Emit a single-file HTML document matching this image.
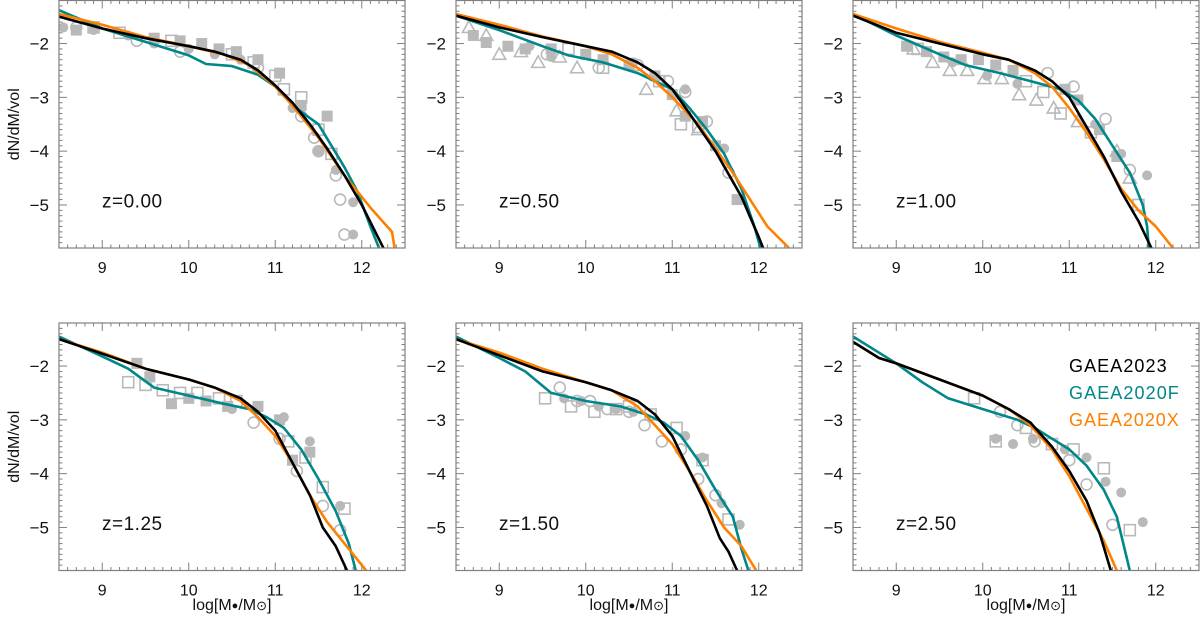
<!DOCTYPE html>
<html><head><meta charset="utf-8"><style>
html,body{margin:0;padding:0;background:#fff;}
svg{display:block;font-family:"Liberation Sans",sans-serif;}
</style></head><body>
<svg id="chart" width="1200" height="621" viewBox="0 0 1200 621" xmlns="http://www.w3.org/2000/svg"></svg>
<script>
const panelLabels=["z=0.00","z=0.50","z=1.00","z=1.25","z=1.50","z=2.50"];
const xTicks=[9,10,11,12];
const yTicks=[-2,-3,-4,-5];
const legendNames=["GAEA2023","GAEA2020F","GAEA2020X"];
const seriesColors=["#000000","#00878a","#ff8000"];
// model lines per panel: [x array, y array]
const blackX=[[8.5,9,9.5,10,10.3,10.6,10.8,11,11.2,11.4,11.6,11.8,12,12.25],[8.5,9,9.5,10,10.3,10.6,10.8,11,11.2,11.5,11.8,12,12.05],[8.5,9,9.5,10,10.3,10.6,10.8,11,11.2,11.4,11.6,11.8,11.95],[8.5,9,9.5,10,10.3,10.6,10.8,11,11.2,11.4,11.55,11.7,11.83],[8.5,9,9.5,10,10.3,10.6,10.8,11,11.2,11.4,11.55,11.65,11.75],[8.5,8.8,9,9.5,10,10.3,10.55,10.8,11,11.2,11.35,11.48]];
const blackY=[[-1.5,-1.72,-1.9,-2.05,-2.15,-2.3,-2.5,-2.78,-3.1,-3.5,-3.95,-4.45,-5.0,-5.8],[-1.48,-1.7,-1.88,-2.05,-2.15,-2.35,-2.55,-2.85,-3.3,-4.0,-4.85,-5.6,-5.8],[-1.48,-1.8,-2.0,-2.2,-2.3,-2.5,-2.7,-3.0,-3.55,-4.1,-4.75,-5.3,-5.8],[-1.5,-1.77,-2.05,-2.25,-2.4,-2.6,-2.85,-3.2,-3.8,-4.4,-5.0,-5.35,-5.8],[-1.5,-1.8,-2.1,-2.3,-2.45,-2.65,-2.9,-3.3,-3.95,-4.6,-5.2,-5.45,-5.8],[-1.55,-1.85,-1.95,-2.25,-2.55,-2.8,-3.05,-3.5,-3.95,-4.5,-5.1,-5.8]];
const tealX=[[8.5,9,9.5,10,10.2,10.5,10.8,11,11.2,11.5,11.8,11.95,12.1,12.2],[8.5,9,9.5,9.8,10.2,10.6,10.8,11,11.2,11.4,11.6,11.8,11.95,12.02],[8.5,9,9.5,9.8,10.2,10.6,10.9,11.1,11.3,11.5,11.7,11.85,11.9,11.92],[8.5,9,9.3,9.6,10,10.4,10.7,10.9,11.1,11.3,11.5,11.7,11.85,11.93],[8.5,9,9.3,9.6,10,10.4,10.7,10.9,11.1,11.3,11.5,11.7,11.8,11.88],[8.5,9,9.3,9.6,10,10.4,10.6,10.8,11,11.2,11.4,11.55,11.7]];
const tealY=[[-1.38,-1.72,-1.97,-2.22,-2.38,-2.42,-2.58,-2.8,-3.15,-3.5,-4.3,-4.75,-5.4,-5.8],[-1.48,-1.75,-2.05,-2.22,-2.35,-2.55,-2.7,-2.85,-3.2,-3.6,-4.05,-4.7,-5.4,-5.8],[-1.45,-1.85,-2.2,-2.4,-2.55,-2.72,-2.85,-3.05,-3.4,-3.9,-4.4,-5.0,-5.4,-5.8],[-1.45,-1.82,-2.05,-2.4,-2.55,-2.7,-2.8,-2.95,-3.15,-3.55,-4.1,-4.7,-5.3,-5.8],[-1.45,-1.85,-2.1,-2.5,-2.65,-2.75,-2.9,-3.05,-3.3,-3.75,-4.3,-4.8,-5.4,-5.8],[-1.45,-1.95,-2.3,-2.6,-2.8,-3.0,-3.15,-3.35,-3.55,-3.85,-4.3,-4.8,-5.8]];
const orangeX=[[8.5,9,9.5,10,10.4,10.7,11,11.2,11.5,11.8,12.1,12.35,12.38],[8.5,9,9.5,10,10.3,10.6,10.8,11,11.3,11.5,11.7,11.9,12.1,12.35],[8.5,9,9.5,10,10.3,10.6,10.8,11,11.2,11.4,11.6,11.8,12,12.2],[8.5,9,9.5,10,10.3,10.6,10.8,11,11.2,11.4,11.6,11.8,12.05],[8.5,9,9.5,10,10.3,10.6,10.8,11,11.2,11.4,11.6,11.8,11.97],[8.5,8.8,9,9.5,10,10.3,10.55,10.8,11,11.2,11.4,11.55]];
const orangeY=[[-1.45,-1.65,-1.88,-2.05,-2.2,-2.4,-2.8,-3.15,-3.75,-4.45,-5.05,-5.5,-5.8],[-1.45,-1.65,-1.87,-2.05,-2.2,-2.45,-2.7,-3.0,-3.5,-3.95,-4.4,-4.9,-5.4,-5.8],[-1.45,-1.72,-1.97,-2.17,-2.3,-2.55,-2.8,-3.2,-3.65,-4.15,-4.7,-5.1,-5.4,-5.8],[-1.5,-1.75,-2.05,-2.25,-2.4,-2.65,-2.95,-3.3,-3.8,-4.4,-4.9,-5.3,-5.8],[-1.5,-1.75,-2.05,-2.3,-2.45,-2.75,-3.1,-3.45,-3.95,-4.5,-5.0,-5.35,-5.8],[-1.55,-1.85,-1.95,-2.25,-2.55,-2.8,-3.1,-3.55,-4.05,-4.65,-5.25,-5.8]];
// observational points per panel
const fcX=[[8.55,8.9,9.3,9.6,10,10.3,10.6,11.2,11.5,11.7,11.9,11.9],[9.35,9.6,10.55,11.15,11.6],[9.65,10.05,10.4,11.3,11.6,11.9],[10.2,10.5,11.1,11.4,11.75],[9.75,9.95,10.15,10.35,10.55,11.15,11.35,11.57,11.78],[10.15,10.35,10.58,10.95,11.2,11.42,11.6,11.85]];
const fcY=[[-1.7,-1.75,-1.85,-2.0,-2.1,-2.2,-2.3,-3.2,-4.0,-4.35,-4.95,-5.55],[-2.05,-2.25,-2.35,-2.85,-3.95],[-2.35,-2.6,-2.75,-3.5,-4.05,-4.45],[-2.65,-2.8,-2.95,-3.4,-4.6],[-2.6,-2.65,-2.75,-2.8,-2.85,-3.3,-3.7,-4.55,-4.95],[-3.35,-3.45,-3.35,-3.55,-3.7,-4.15,-4.35,-4.9]];
const ocX=[[8.7,9.4,9.9,10.8,11.3,11.45,11.5,11.7,11.75,11.8],[9.55,10.15,10.6,10.95,11.15,11.4,11.65],[10.75,11.05,11.42,11.7],[10.75,11.05,11.25,11.55,11.75],[9.7,9.9,10.05,10.25,10.5,10.68,10.88,11.1,11.3,11.5],[10.2,10.4,10.6,11.0,11.2,11.5]];
const ocY=[[-1.7,-1.95,-2.15,-2.45,-3.35,-3.75,-4.0,-4.45,-4.9,-5.55],[-2.2,-2.45,-2.4,-2.7,-2.9,-3.45,-4.4],[-2.55,-2.8,-3.4,-4.35],[-3.05,-3.35,-3.95,-4.6,-5.05],[-2.4,-2.65,-2.65,-2.8,-2.85,-3.1,-3.4,-3.55,-4.1,-4.4],[-2.85,-3.1,-3.4,-3.75,-4.2,-4.95]];
const fsX=[[8.7,9.6,9.9,10.15,10.35,10.55,10.8,11.05,11.3,11.6],[8.7,8.85,9.1,9.3,9.6,10.0,10.2,10.5,10.8,11.0,11.15,11.35,11.5,11.75],[9.12,9.35,9.55,9.75,9.95,10.15,10.35,10.95,11.1,11.35,11.55],[9.4,9.55,9.8,10.0,10.2,10.45,10.8,11.05,11.2,11.4],[],[]];
const fsY=[[-1.75,-1.9,-1.95,-2.0,-2.1,-2.15,-2.3,-2.55,-3.15,-3.35],[-1.85,-1.98,-2.05,-2.1,-2.1,-2.2,-2.3,-2.4,-2.6,-2.95,-3.35,-3.45,-3.9,-4.9],[-2.05,-2.15,-2.25,-2.3,-2.3,-2.4,-2.5,-2.85,-3.05,-3.6,-4.1],[-1.95,-2.2,-2.7,-2.6,-2.65,-2.75,-2.75,-3.0,-3.75,-3.6],[],[]];
const osX=[[8.9,9.2,9.8,10.5,10.75,11.0,11.1,11.3,11.5,11.65],[9.8,10.2,10.85,11.1,11.3],[9.25,10.5,10.7,10.9,11.25,11.8],[9.3,9.5,9.7,9.9,10.1,10.35,10.55,11.15,11.35,11.55,11.8],[9.53,9.83,10.1,10.35,10.5,10.75,11.05,11.35,11.65],[9.9,10.15,10.5,10.8,11.05,11.4,11.7]];
const osY=[[-1.7,-1.8,-1.95,-2.2,-2.35,-2.6,-2.85,-3.0,-3.6,-4.05],[-2.1,-2.45,-2.7,-3.5,-3.55],[-2.1,-2.7,-2.9,-3.3,-3.65,-5.0],[-2.3,-2.35,-2.45,-2.5,-2.5,-2.6,-2.65,-3.4,-3.7,-4.25,-4.65],[-2.6,-2.75,-2.85,-2.8,-2.75,-2.9,-3.15,-3.75,-4.85],[-2.6,-3.4,-3.15,-3.45,-3.55,-3.9,-5.05]];
const otX=[[],[8.65,8.85,9.0,9.25,9.45,9.7,9.9,10.7,11.05,11.3],[9.2,9.42,9.62,9.82,10.02,10.22,10.42,10.62,10.82,11.1,11.55,11.7],[],[],[]];
const otY=[[],[-1.7,-1.85,-2.2,-2.15,-2.35,-2.25,-2.45,-2.85,-3.25,-3.6],[-2.1,-2.35,-2.5,-2.5,-2.65,-2.65,-2.95,-3.05,-3.2,-3.45,-4.0,-4.5],[],[],[]];

const NS="http://www.w3.org/2000/svg";
const svg=document.getElementById('chart');
const XMIN=8.5,XMAX=12.5,YMIN=-5.8,YMAX=-1.2;
const PW=346,PH=247.5;
const lefts=[59,456,853],tops=[0.5,323];
const GREY="#b9b9b9";
function mk(tag,attrs,parent){const e=document.createElementNS(NS,tag);for(const k in attrs)e.setAttribute(k,attrs[k]);(parent||svg).appendChild(e);return e;}

for(let p=0;p<6;p++){
  const L=lefts[p%3],T=tops[Math.floor(p/3)];
  const sx=v=>L+(v-XMIN)/(XMAX-XMIN)*PW;
  const sy=v=>T+(YMAX-v)/(YMAX-YMIN)*PH;
  const g=mk('g',{});
  
  
  const cp=mk('clipPath',{id:'clip'+p},g);
  mk('rect',{x:L,y:T,width:PW,height:PH},cp);
  // ticks
  const tk=mk('g',{stroke:"#808080","stroke-width":1},g);
  
  
  for(let i=86;i<=124;i++){const v=i/10,x=sx(v);const maj=i%10===0;const l=maj?8:3.5;
    mk('line',{x1:x,y1:T+PH,x2:x,y2:T+PH-l},tk);mk('line',{x1:x,y1:T,x2:x,y2:T+l},tk);}
  for(let i=-57;i<=-13;i++){const v=i/10,y=sy(v);const maj=i%10===0;const l=maj?8:3.5;
    mk('line',{x1:L,y1:y,x2:L+l,y2:y},tk);mk('line',{x1:L+PW,y1:y,x2:L+PW-l,y2:y},tk);}
  // points
  const pg=mk('g',{"clip-path":"url(#clip"+p+")"},g);
  
  
  fsX[p].forEach((v,i)=>{const e=mk('rect',{x:sx(v)-5.5,y:sy(fsY[p][i])-5.5,width:11,height:11,fill:GREY},pg);
    });
  osX[p].forEach((v,i)=>{const e=mk('rect',{x:sx(v)-5.5,y:sy(osY[p][i])-5.5,width:11,height:11,fill:"none",stroke:GREY,"stroke-width":1.6},pg);
    });
  otX[p].forEach((v,i)=>{const cx=sx(v),cy=sy(otY[p][i]);const e=mk('polygon',{points:`${cx-6.5},${cy+5} ${cx+6.5},${cy+5} ${cx},${cy-6.5}`,fill:"none",stroke:GREY,"stroke-width":1.6},pg);
    });
  ocX[p].forEach((v,i)=>{const e=mk('circle',{cx:sx(v),cy:sy(ocY[p][i]),r:5.5,fill:"none",stroke:GREY,"stroke-width":1.6},pg);
    });
  fcX[p].forEach((v,i)=>{const e=mk('circle',{cx:sx(v),cy:sy(fcY[p][i]),r:5,fill:GREY},pg);
    });
  // lines
  const series=[[tealX,tealY,1,'gaea2020f-line'],[orangeX,orangeY,2,'gaea2020x-line'],[blackX,blackY,0,'gaea2023-line']];
  series.forEach(s=>{const xs=s[0][p],ys=s[1][p];
    const d=xs.map((v,i)=>(i?'L':'M')+sx(v).toFixed(1)+','+sy(ys[i]).toFixed(1)).join('');
    const e=mk('path',{d:d,fill:"none",stroke:seriesColors[s[2]],"stroke-width":2.6,"stroke-linejoin":"round","clip-path":"url(#clip"+p+")"},g);
    });
  // frame
  const fr=mk('rect',{x:L,y:T,width:PW,height:PH,fill:"none",stroke:"#808080","stroke-width":1.2},g);
  
  // tick labels
  xTicks.forEach(v=>{const t=mk('text',{x:sx(v),y:T+PH+25,"text-anchor":"middle","font-size":16,fill:"#111"},g);t.textContent=String(v);
    });
  yTicks.forEach(v=>{const t=mk('text',{x:L-10,y:sy(v)+6,"text-anchor":"end","font-size":17,fill:"#111"},g);t.textContent="\u2212"+Math.abs(v);
    });
  const zl=mk('text',{x:L+43,y:T+207,"font-size":19,fill:"#111","letter-spacing":"0.5"},g);zl.textContent=panelLabels[p];
  
  if(p%3===0){const cy=T+PH/2;const t=mk('text',{x:19,y:cy,"text-anchor":"middle","font-size":16,fill:"#111",transform:`rotate(-90 19 ${cy})`},g);t.textContent="dN/dM/vol";
    }
  if(p>=3){const t=mk('text',{x:L+PW/2,y:610,"text-anchor":"middle","font-size":16,fill:"#111"},g);
    t.innerHTML='log[M<tspan font-size="11" dy="-1">\u25cf</tspan><tspan dy="1">/M</tspan><tspan font-size="13">\u2299</tspan>]';
    }
  if(p===5){legendNames.forEach((n,i)=>{const t=mk('text',{x:1069,y:T+49+i*27,"font-size":18,fill:seriesColors[i],textLength:n.length*12.2},g);t.textContent=n;
    });}
}
</script>
</body></html>
